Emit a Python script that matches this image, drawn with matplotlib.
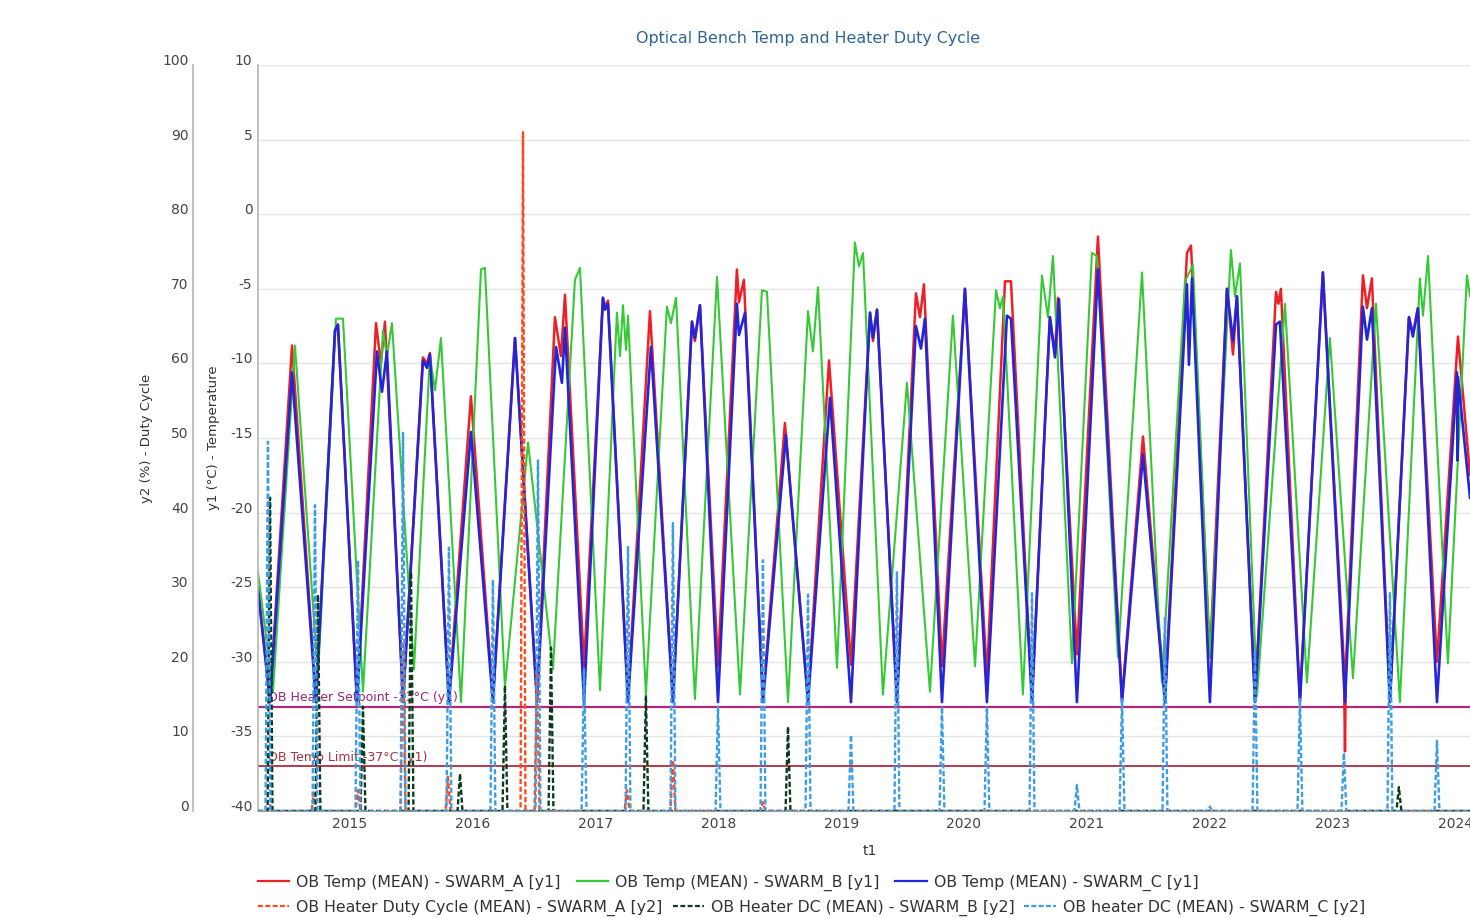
import matplotlib
matplotlib.use("Agg")
import matplotlib.pyplot as plt
from matplotlib.lines import Line2D

plt.rcParams['font.family'] = ['DejaVu Sans']
plt.rcParams['axes.unicode_minus'] = False

# ---------------- data (decimal years) ----------------
TITLE = "Optical Bench Temp and Heater Duty Cycle"

A_T_X = [2014.251, 2014.349, 2014.528, 2014.723, 2014.878, 2014.902, 2015.057, 2015.212, 2015.252,
         2015.285, 2015.432, 2015.594, 2015.627, 2015.651, 2015.806, 2015.985, 2016.164, 2016.344,
         2016.523, 2016.669, 2016.718, 2016.751, 2016.906, 2017.060, 2017.077, 2017.101, 2017.264,
         2017.443, 2017.630, 2017.785, 2017.809, 2017.850, 2017.997, 2018.151, 2018.168, 2018.208,
         2018.363, 2018.542, 2018.730, 2018.901, 2019.080, 2019.235, 2019.259, 2019.292, 2019.454,
         2019.609, 2019.642, 2019.674, 2019.821, 2020.008, 2020.187, 2020.334, 2020.383, 2020.554,
         2020.700, 2020.741, 2020.765, 2020.920, 2021.091, 2021.287, 2021.458, 2021.637, 2021.816,
         2021.849, 2022.003, 2022.142, 2022.191, 2022.223, 2022.370, 2022.541, 2022.561, 2022.581,
         2022.736, 2022.923, 2023.094, 2023.103, 2023.111, 2023.249, 2023.282, 2023.322, 2023.469,
         2023.624, 2023.656, 2023.697, 2023.852, 2024.023, 2024.121]
A_T_Y = [-25.0, -32.5, -8.8, -32.5, -7.8, -7.4, -32.5, -7.3, -10.0,
         -7.2, -32.5, -9.6, -10.0, -9.3, -32.5, -12.2, -32.5, -8.3,
         -32.5, -6.9, -9.5, -5.4, -30.3, -5.6, -6.2, -5.8, -32.5,
         -6.5, -32.5, -7.2, -8.5, -6.1, -30.3, -3.7, -5.9, -4.4,
         -32.5, -14.0, -32.5, -9.8, -30.2, -6.6, -8.5, -6.4, -32.5,
         -5.3, -6.9, -4.7, -30.3, -5.0, -31.0, -4.5, -4.5, -32.5,
         -6.9, -9.4, -5.6, -29.5, -1.5, -32.5, -14.9, -32.5, -2.6,
         -2.1, -29.7, -5.0, -9.4, -5.5, -32.5, -5.2, -6.0, -5.0,
         -32.5, -3.9, -30.1, -36.0, -30.1, -4.1, -6.3, -4.3, -32.5,
         -6.9, -8.0, -6.3, -30.0, -8.2, -17.5]

B_T_X = [2014.251, 2014.373, 2014.552, 2014.739, 2014.886, 2014.943, 2015.106, 2015.269, 2015.301,
         2015.342, 2015.521, 2015.651, 2015.692, 2015.741, 2015.904, 2016.067, 2016.099, 2016.262,
         2016.450, 2016.653, 2016.832, 2016.873, 2017.036, 2017.174, 2017.199, 2017.223, 2017.248,
         2017.264, 2017.410, 2017.581, 2017.614, 2017.655, 2017.809, 2017.989, 2018.176, 2018.355,
         2018.396, 2018.567, 2018.730, 2018.770, 2018.811, 2018.966, 2019.112, 2019.145, 2019.178,
         2019.340, 2019.536, 2019.723, 2019.910, 2020.090, 2020.261, 2020.293, 2020.318, 2020.480,
         2020.635, 2020.684, 2020.725, 2020.879, 2021.042, 2021.083, 2021.254, 2021.450, 2021.612,
         2021.800, 2021.865, 2022.003, 2022.174, 2022.207, 2022.248, 2022.386, 2022.614, 2022.793,
         2022.980, 2023.168, 2023.355, 2023.550, 2023.713, 2023.738, 2023.779, 2023.941, 2024.096,
         2024.121]
B_T_Y = [-24.0, -32.0, -8.8, -31.0, -7.0, -7.0, -32.0, -7.8, -9.5,
         -7.3, -30.5, -9.5, -11.8, -8.3, -32.7, -3.7, -3.6, -31.7,
         -15.3, -30.5, -4.4, -3.6, -31.9, -6.6, -9.5, -6.1, -9.1,
         -6.8, -32.2, -6.2, -7.3, -5.6, -32.5, -4.2, -32.2, -5.1,
         -5.2, -32.7, -6.5, -9.2, -4.9, -30.4, -1.9, -3.5, -2.6,
         -32.2, -11.3, -32.0, -6.8, -30.3, -5.1, -6.3, -5.5, -32.2,
         -4.1, -6.9, -2.8, -30.1, -2.6, -2.8, -29.7, -3.9, -31.4,
         -4.5, -3.4, -29.7, -2.4, -5.5, -3.3, -32.3, -6.0, -31.4,
         -8.3, -31.1, -6.0, -32.7, -4.3, -6.8, -2.8, -30.1, -4.1,
         -5.5]

C_T_X = [2014.251, 2014.349, 2014.528, 2014.723, 2014.878, 2014.902, 2015.057, 2015.220, 2015.261,
         2015.301, 2015.432, 2015.594, 2015.627, 2015.651, 2015.806, 2015.985, 2016.164, 2016.344,
         2016.523, 2016.678, 2016.726, 2016.751, 2016.906, 2017.060, 2017.077, 2017.101, 2017.264,
         2017.451, 2017.630, 2017.785, 2017.809, 2017.850, 2017.997, 2018.151, 2018.168, 2018.217,
         2018.363, 2018.550, 2018.730, 2018.909, 2019.080, 2019.235, 2019.259, 2019.292, 2019.454,
         2019.609, 2019.650, 2019.682, 2019.821, 2020.008, 2020.187, 2020.350, 2020.383, 2020.554,
         2020.700, 2020.741, 2020.774, 2020.920, 2021.091, 2021.287, 2021.458, 2021.637, 2021.816,
         2021.832, 2021.857, 2022.003, 2022.142, 2022.191, 2022.223, 2022.370, 2022.541, 2022.573,
         2022.736, 2022.923, 2023.103, 2023.249, 2023.282, 2023.322, 2023.469, 2023.624, 2023.656,
         2023.697, 2023.852, 2024.015, 2024.019, 2024.023, 2024.121]
C_T_Y = [-25.2, -32.7, -10.6, -32.7, -7.8, -7.4, -32.7, -9.2, -11.9,
         -9.2, -32.7, -9.8, -10.3, -9.4, -32.7, -14.6, -32.7, -8.3,
         -32.7, -8.9, -11.3, -7.6, -32.7, -5.6, -6.4, -6.0, -32.7,
         -8.9, -32.7, -7.2, -8.3, -6.1, -32.7, -6.0, -8.1, -6.6,
         -32.7, -14.8, -32.7, -12.3, -32.7, -6.6, -8.3, -6.4, -32.7,
         -7.5, -9.0, -7.0, -32.7, -5.0, -32.7, -6.8, -7.0, -32.7,
         -6.9, -9.6, -5.7, -32.7, -3.7, -32.7, -16.1, -32.7, -4.7,
         -10.1, -4.3, -32.7, -5.0, -8.5, -5.5, -32.7, -7.4, -7.2,
         -32.7, -3.9, -32.7, -6.2, -8.4, -6.3, -32.7, -6.9, -8.2,
         -6.3, -32.7, -10.6, -16.5, -10.9, -19.0]

A_DC_X = [2014.251, 2014.329, 2014.349, 2014.369, 2014.687, 2014.707, 2014.727, 2015.045, 2015.065,
          2015.085, 2015.412, 2015.432, 2015.452, 2015.778, 2015.798, 2015.818, 2016.389, 2016.409,
          2016.429, 2016.503, 2016.523, 2016.543, 2017.236, 2017.256, 2017.276, 2017.610, 2017.630,
          2017.650, 2018.343, 2018.363, 2018.383, 2024.121]
A_DC_Y = [0, 0, 0.8, 0, 0, 2.4, 0, 0, 2.8,
          0, 0, 22.7, 0, 0, 4.6, 0, 0, 91.0,
          0, 0, 18.7, 0, 0, 2.8, 0, 0, 6.8,
          0, 0, 1.2, 0, 0]

B_DC_X = [2014.251, 2014.329, 2014.349, 2014.369, 2014.719, 2014.739, 2014.759, 2015.086, 2015.106,
          2015.126, 2015.477, 2015.497, 2015.517, 2015.876, 2015.896, 2015.916, 2016.242, 2016.262,
          2016.282, 2016.617, 2016.637, 2016.657, 2017.390, 2017.410, 2017.430, 2018.547, 2018.567,
          2018.587, 2023.522, 2023.542, 2023.562, 2024.121]
B_DC_Y = [0, 0, 42.0, 0, 0, 29.0, 0, 0, 14.0,
          0, 0, 32.0, 0, 0, 5.0, 0, 0, 16.8,
          0, 0, 21.9, 0, 0, 15.5, 0, 0, 11.3,
          0, 0, 3.2, 0, 0]

C_DC_X = [2014.251,
          2014.312, 2014.332, 2014.352, 2014.695, 2014.715, 2014.735, 2015.045, 2015.065, 2015.085,
          2015.412, 2015.432, 2015.452, 2015.786, 2015.806, 2015.826, 2016.144, 2016.164, 2016.184,
          2016.511, 2016.531, 2016.551, 2016.886, 2016.906, 2016.926, 2017.244, 2017.264, 2017.284,
          2017.610, 2017.630, 2017.650, 2017.977, 2017.997, 2018.017, 2018.343, 2018.363, 2018.383,
          2018.710, 2018.730, 2018.750, 2019.060, 2019.080, 2019.100, 2019.434, 2019.454, 2019.474,
          2019.801, 2019.821, 2019.841, 2020.167, 2020.187, 2020.207, 2020.534, 2020.554, 2020.574,
          2020.900, 2020.920, 2020.940, 2021.267, 2021.287, 2021.307, 2021.617, 2021.637, 2021.657,
          2021.983, 2022.003, 2022.023, 2022.350, 2022.370, 2022.390, 2022.716, 2022.736, 2022.756,
          2023.074, 2023.094, 2023.114, 2023.449, 2023.469, 2023.489, 2023.832, 2023.852, 2023.872,
          2024.121]
C_DC_Y = [0,
          0, 49.5, 0, 0, 41.0, 0, 0, 33.6, 0,
          0, 50.7, 0, 0, 35.3, 0, 0, 31.0, 0,
          0, 47.0, 0, 0, 19.0, 0, 0, 35.4, 0,
          0, 38.6, 0, 0, 14.0, 0, 0, 33.6, 0,
          0, 29.0, 0, 0, 10.2, 0, 0, 32.0, 0,
          0, 14.0, 0, 0, 14.0, 0, 0, 29.2, 0,
          0, 3.5, 0, 0, 15.0, 0, 0, 25.9, 0,
          0, 0.6, 0, 0, 21.2, 0, 0, 15.0, 0,
          0, 7.8, 0, 0, 29.2, 0, 0, 9.4, 0,
          0]

SETPOINT = -33
TEMP_LIMIT = -37
SETPOINT_LABEL = "OB Heater Setpoint -33°C (y1)"
LIMIT_LABEL = "OB Temp Limit -37°C (y1)"

Y1_TICKS = [-40, -35, -30, -25, -20, -15, -10, -5, 0, 5, 10]
Y2_TICKS = [0, 10, 20, 30, 40, 50, 60, 70, 80, 90, 100]
X_TICKS = [2015, 2016, 2017, 2018, 2019, 2020, 2021, 2022, 2023, 2024]
X_RANGE = [2014.251, 2024.121]

LEG_TEMP = ["OB Temp (MEAN) - SWARM_A [y1]", "OB Temp (MEAN) - SWARM_B [y1]", "OB Temp (MEAN) - SWARM_C [y1]"]
LEG_DC = ["OB Heater Duty Cycle (MEAN) - SWARM_A [y2]", "OB Heater DC (MEAN) - SWARM_B [y2]",
          "OB heater DC (MEAN) - SWARM_C [y2]"]

# ---------------- styles ----------------
RED = '#ec2027'
GREEN = '#36c936'
BLUE = '#2525d8'
RED_DC = '#ff4a1c'
GREEN_DC = '#0c3a1c'
BLUE_DC = '#3a9de6'
GRAY_TXT = '#444444'
PX = 72 / 100  # points per pixel at dpi 100

fig = plt.figure(figsize=(14.7, 9.18), dpi=100)
ax = fig.add_axes([258 / 1470, 107 / 918, 1212 / 1470, 746 / 918])
ax2 = ax.twinx()

ax.set_xlim(*X_RANGE)
ax.set_ylim(-40, 10)
ax2.set_ylim(0, 100)

# spines
for s in ['top', 'right']:
    ax.spines[s].set_visible(False)
ax.spines['left'].set_color('#b5b5b5')
ax.spines['left'].set_linewidth(1.2)
ax.spines['bottom'].set_color('#9a9a9a')
for s in ['top', 'right', 'bottom']:
    ax2.spines[s].set_visible(False)
ax2.spines['left'].set_visible(True)
ax2.spines['left'].set_position(('outward', 65 * PX))
ax2.spines['left'].set_color('#b5b5b5')
ax2.spines['left'].set_linewidth(1.2)
ax2.yaxis.tick_left()
ax2.yaxis.set_label_position('left')

# ticks
ax.set_yticks(Y1_TICKS)
ax.set_yticklabels([str(v) for v in Y1_TICKS])
ax2.set_yticks(Y2_TICKS)
ax2.set_yticklabels([str(v) for v in Y2_TICKS])
ax.set_xticks(X_TICKS)
ax.set_xticklabels([str(v) for v in X_TICKS])
ax.tick_params(axis='both', length=0, labelsize=10, labelcolor=GRAY_TXT)
ax.tick_params(axis='y', pad=4)
ax.tick_params(axis='x', pad=4)
ax2.tick_params(axis='y', length=0, pad=3, labelsize=10, labelcolor=GRAY_TXT)
for lab in ax.get_yticklabels() + ax2.get_yticklabels():
    lab.set_va('baseline')

ax.yaxis.grid(True, color='#e4e4e4', linewidth=1.0)
ax.set_axisbelow(True)

# axis labels
ax.set_ylabel("y1 (°C) - Temperature", fontsize=9.5, color='#333333')
ax.yaxis.set_label_coords(-0.031, 0.5)
ax2.set_ylabel("y2 (%) - Duty Cycle", fontsize=9.5, color='#333333')
ax2.yaxis.set_label_coords(-0.0866, 0.5)

# thresholds
ax.axhline(SETPOINT, color='#b3267a', linewidth=1.6, zorder=1.6)
ax.axhline(TEMP_LIMIT, color='#b33a4a', linewidth=1.4, zorder=1.6)
ax.annotate(SETPOINT_LABEL, xy=(0.008, SETPOINT), xycoords=('axes fraction', 'data'),
            xytext=(0, 1.5), textcoords='offset points', va='bottom', ha='left',
            fontsize=9, color='#9c2470', zorder=1.5)
ax.annotate(LIMIT_LABEL, xy=(0.008, TEMP_LIMIT), xycoords=('axes fraction', 'data'),
            xytext=(0, 1.5), textcoords='offset points', va='bottom', ha='left',
            fontsize=9, color='#a23444', zorder=1.5)

# temperature lines
ax.plot(A_T_X, A_T_Y, color=RED, linewidth=1.8, zorder=2)
ax.plot(B_T_X, B_T_Y, color=GREEN, linewidth=1.5, zorder=2.1)
ax.plot(C_T_X, C_T_Y, color=BLUE, linewidth=1.9, zorder=2.2)

# duty cycle lines
dash = (2.2, 1.1)
ax2.plot(A_DC_X, A_DC_Y, color=RED_DC, linewidth=1.7, dashes=dash, zorder=2)
ax2.plot(B_DC_X, B_DC_Y, color=GREEN_DC, linewidth=1.7, dashes=dash, zorder=2.1)
ax2.plot(C_DC_X, C_DC_Y, color=BLUE_DC, linewidth=1.7, dashes=dash, zorder=2.2)

# title and x label
fig.text(808 / 1470, 1 - 38 / 918, TITLE, ha='center', va='center', fontsize=11.4, color='#2d6593')
fig.text(870 / 1470, 1 - 851 / 918, "t1", ha='center', va='center', fontsize=10, color='#333333')

# legends
h1 = [Line2D([], [], color=c, linewidth=1.6) for c in (RED, GREEN, BLUE)]
h2 = [Line2D([], [], color=c, linewidth=1.6, dashes=dash) for c in (RED_DC, GREEN_DC, BLUE_DC)]
common = dict(loc='center left', ncol=3, frameon=False, fontsize=11.3, handlelength=2.0,
              handletextpad=0.45, borderpad=0, borderaxespad=0, labelcolor='#333333')
fig.legend(h1, LEG_TEMP, bbox_to_anchor=(258 / 1470, 1 - 883 / 918), columnspacing=1.0, **common)
fig.legend(h2, LEG_DC, bbox_to_anchor=(258 / 1470, 1 - 908 / 918), columnspacing=0.62, **common)

fig.savefig("out.png", dpi=100)
